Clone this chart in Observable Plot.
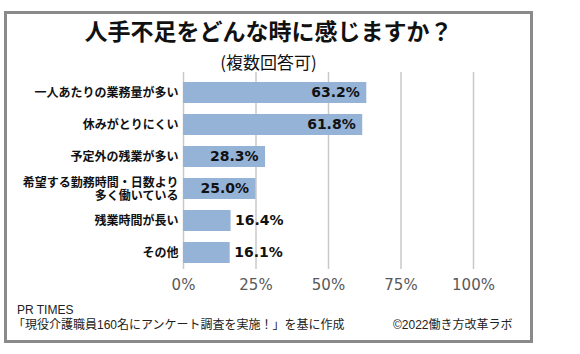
<!DOCTYPE html>
<html><head><meta charset="utf-8">
<script src="https://cdn.jsdelivr.net/npm/d3@7"></script>
<script src="https://cdn.jsdelivr.net/npm/@observablehq/plot@0.6"></script>
<style>
body{margin:0;background:#fff;}
#wrap{position:relative;width:580px;height:354px;overflow:hidden;font-family:"Noto Sans CJK JP",sans-serif;background:#fff;}
#frame{position:absolute;left:4px;top:11px;width:529px;height:332px;box-sizing:border-box;border:3px solid #8a8a8a;}
#title{position:absolute;left:4px;width:529px;top:18px;text-align:center;font-size:23px;font-weight:bold;line-height:24px;color:#111;white-space:nowrap;}
#sub{position:absolute;left:4px;width:529px;top:52px;text-align:center;font-size:17px;line-height:20px;color:#111;white-space:nowrap;}
#chart{position:absolute;left:0;top:60px;}
.foot{position:absolute;font-family:"Liberation Sans","Noto Sans CJK JP",sans-serif;font-size:12px;line-height:12px;color:#222;white-space:nowrap;}
</style></head>
<body>
<div id="wrap">
  <div id="frame"></div>
  <div id="title">人手不足をどんな時に感じますか？</div>
  <div id="sub">(複数回答可)</div>
  <div id="chart"></div>
  <div class="foot" style="left:17px;top:304px;">PR TIMES</div>
  <div class="foot" style="left:13px;top:318.5px;">「現役介護職員160名にアンケート調査を実施！」を基に作成</div>
  <div class="foot" style="left:393px;top:319px;">©2022働き方改革ラボ</div>
</div>
<script>
const categories = [
  "一人あたりの業務量が多い",
  "休みがとりにくい",
  "予定外の残業が多い",
  "希望する勤務時間・日数より\n多く働いている",
  "残業時間が長い",
  "その他"
];
const values = [63.2, 61.8, 28.3, 25.0, 16.4, 16.1];
const xTicks = [0, 25, 50, 75, 100];

const data = categories.map((c, i) => ({category: c, value: values[i]}));
const fmt = d => d.value.toFixed(1) + "%";

const chart = Plot.plot({
  width: 580,
  height: 240,
  marginLeft: 183,
  marginRight: 107,
  marginTop: 12,
  marginBottom: 31,
  style: {background: "transparent", fontFamily: "'Noto Sans CJK JP', sans-serif", overflow: "visible"},
  x: {domain: [0, 100], label: null},
  y: {domain: categories, paddingInner: 0.35, paddingOuter: 0.175, insetTop: 4, label: null},
  marks: [
    Plot.gridX(xTicks, {stroke: "#c8c8c8", strokeOpacity: 1, strokeWidth: 1.5}),
    Plot.barX(data, {x: "value", y: "category", fill: "#95b3d7"}),
    Plot.text(data.filter(d => d.value >= 20), {
      x: "value", y: "category", text: fmt, textAnchor: "end", dx: -7,
      fontFamily: "DejaVu Sans", fontWeight: "bold", fontSize: 14, fill: "#111"
    }),
    Plot.text(data.filter(d => d.value < 20), {
      x: "value", y: "category", text: fmt, textAnchor: "start", dx: 4,
      fontFamily: "DejaVu Sans", fontWeight: "bold", fontSize: 14, fill: "#111"
    }),
    Plot.axisY({tickSize: 0, tickPadding: 5, fontSize: 12, fontWeight: "bold", color: "#111",
      fontFamily: "'Liberation Sans', 'Noto Sans CJK JP', sans-serif", lineHeight: 1.16, label: null}),
    Plot.axisX(xTicks, {tickSize: 0, tickPadding: 10, tickFormat: d => d + "%", fontSize: 15, color: "#595959", fontFamily: "DejaVu Sans", label: null})
  ]
});
document.getElementById("chart").appendChild(chart);
</script>
</body></html>
